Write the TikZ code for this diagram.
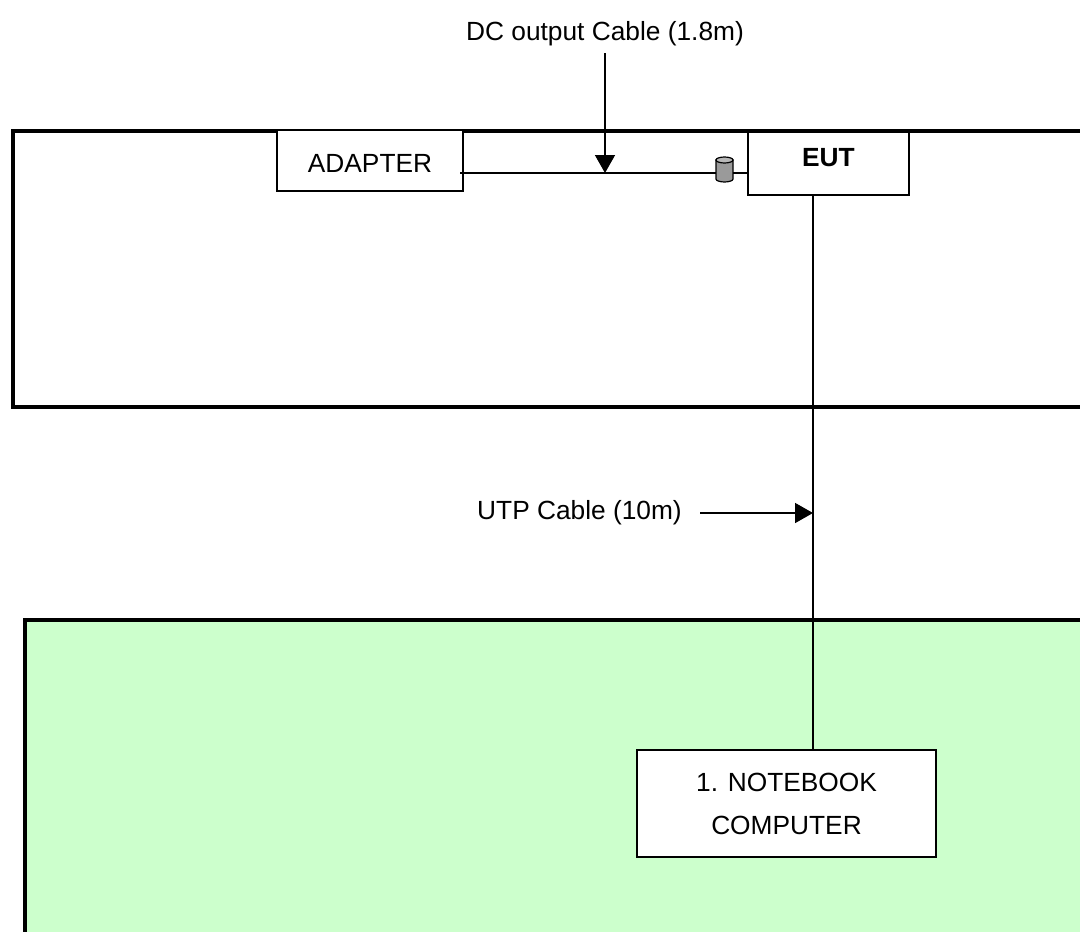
\documentclass[tikz,border=0pt]{standalone}
\usepackage{fontspec}
\setmainfont{Liberation Sans}
\usetikzlibrary{arrows.meta}
\definecolor{tablegreen}{HTML}{CCFFCC}
\definecolor{ferritebody}{HTML}{9A9A9A}
\definecolor{ferritetop}{HTML}{B8B8B8}
\tikzset{
  frame/.style={line width=4pt},
  unit/.style={draw, line width=1.7pt, fill=white, inner sep=0pt},
  cable/.style={line width=1.6pt},
  pointer/.style={line width=1.6pt, -{Triangle[length=18pt,width=20pt]}},
  lbl/.style={inner sep=0pt}
}
\begin{document}
\begin{tikzpicture}[x=1pt,y=-1pt,font=\fontsize{26.3}{43}\selectfont]
\useasboundingbox (0,0) rectangle (1080,932);
\clip (0,0) rectangle (1080,932);

% test table area (upper) and support equipment area (lower)
\draw[frame] (13,131) rectangle (1095,407);
\draw[frame, fill=tablegreen] (25,620) rectangle (1095,945);

% equipment
\node[unit, minimum width=186pt, minimum height=61pt, text height=23.8pt, text depth=0pt]
  (adapter) at (370,160.5) {ADAPTER};
\node[unit, minimum width=161pt, minimum height=63pt, text height=18.8pt, text depth=12pt]
  (eut) at (828.5,163.5) {\bfseries EUT};
\node[unit, minimum width=299pt, minimum height=107pt, align=center]
  (nb) at (786.5,803.5) {1. NOTEBOOK\\COMPUTER};

% ferrite core on the DC cable
\node[minimum width=17pt, minimum height=25pt, inner sep=0pt] (fer) at (724.5,169.5) {};
\filldraw[line width=1.2pt, fill=ferritebody]
  (716,160) -- (716,179) arc[start angle=180, end angle=0, x radius=8.5, y radius=3]
  -- (733,160) -- cycle;
\filldraw[line width=1.2pt, fill=ferritetop] (724.5,160) ellipse[x radius=8.5, y radius=3];

% cables
\coordinate (dcstart) at (460,173);
\draw[cable] (dcstart) -- (dcstart -| fer.west);
\draw[cable] (dcstart -| fer.east) -- (dcstart -| eut.west);
\coordinate (utp) at (813,0);
\draw[cable] (eut.south -| utp) -- (nb.north -| utp);

% labels with pointers
\node[lbl] (dclbl) at (605,34) {DC output Cable (1.8m)};
\coordinate (dcptr) at (605,53);
\draw[pointer] (dcptr) -- (dcptr |- dcstart);

\node[lbl, anchor=east] (utplbl) at (682,513) {UTP Cable (10m)};
\coordinate (utpptr) at (700,513);
\draw[pointer] (utpptr) -- (utpptr -| utp);
\end{tikzpicture}
\end{document}
